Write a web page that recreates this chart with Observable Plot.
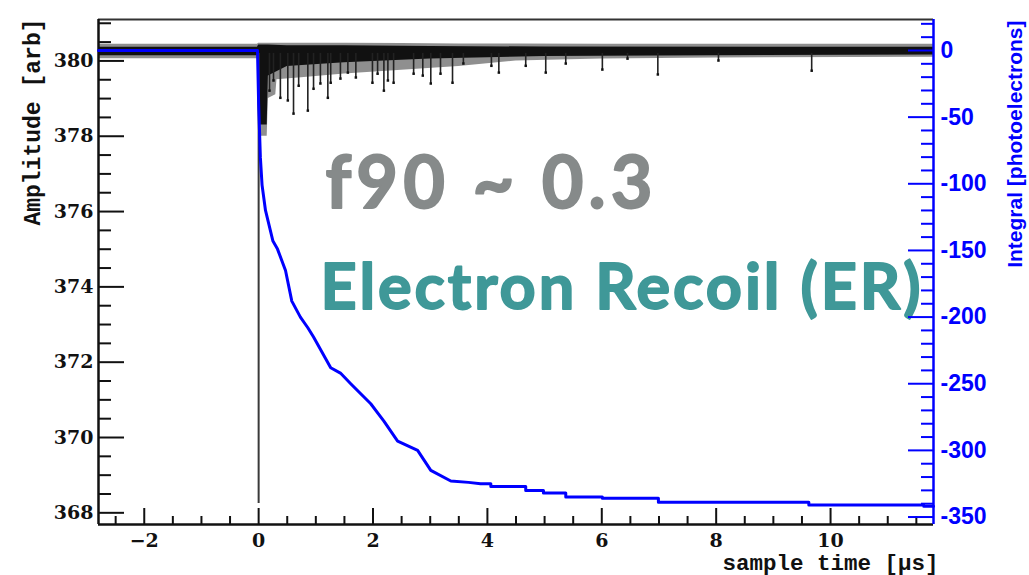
<!DOCTYPE html>
<html><head><meta charset="utf-8">
<script src="https://cdn.jsdelivr.net/npm/d3@7"></script>
<script src="https://cdn.jsdelivr.net/npm/@observablehq/plot@0.6"></script>
<style>
body{margin:0;background:#fff;}
#wrap{position:relative;width:1029px;height:575px;}
#wrap svg{position:absolute;left:0;top:0;}
</style></head><body><div id="wrap"></div>
<script>
// ---- scale ranges ----
const timeRange = [-2.8, 11.8];
const ampRange = [367.69, 381.1];
const integralRange = [-355.6, 23.25];

// ---- tick values ----
const timeMajorTicks = [-2, 0, 2, 4, 6, 8, 10];
const timeMinorTicks = [-2.5,-1.5,-1,-0.5,0.5,1,1.5,2.5,3,3.5,4.5,5,5.5,6.5,7,7.5,8.5,9,9.5,10.5,11,11.5];
const ampMajorTicks = [368, 370, 372, 374, 376, 378, 380];
const ampMinorTicks = [368.5,369,369.5,370.5,371,371.5,372.5,373,373.5,374.5,375,375.5,376.5,377,377.5,378.5,379,379.5,380.5,381];
const intMajorTicks = [0, -50, -100, -150, -200, -250, -300, -350];
const intMinorTicks = [20,10,-10,-20,-30,-40,-60,-70,-80,-90,-110,-120,-130,-140,-160,-170,-180,-190,-210,-220,-230,-240,-260,-270,-280,-290,-310,-320,-330,-340];

// ---- waveform (amplitude, arb): outer noise envelope ----
const envT  = [-2.8, -0.02, 0.0, 0.15, 0.17, 0.30, 0.32, 0.75, 1.5, 2.5, 3.5, 4.5, 6.0, 8.0, 11.8];
const envLo = [380.06, 380.06, 378.0, 378.0, 379.0, 379.1, 379.5, 379.55, 379.65, 379.75, 379.85, 380.0, 380.05, 380.08, 380.10];
const envHi = [380.44, 380.44, 380.47, 380.47, 380.47, 380.47, 380.47, 380.47, 380.47, 380.46, 380.45, 380.45, 380.44, 380.44, 380.44];
// ---- waveform: dense core of the trace ----
const coreT  = [-2.8, -0.02, 0.0, 0.15, 0.17, 0.5, 1.5, 3.0, 5.0, 11.8];
const coreLo = [380.14, 380.14, 378.3, 378.3, 379.6, 379.85, 379.95, 380.05, 380.12, 380.16];
const coreHi = [380.36, 380.36, 380.42, 380.42, 380.42, 380.4, 380.4, 380.38, 380.37, 380.36];

// ---- waveform single-photoelectron dips ----
const spikeT = [0.19,0.26,0.38,0.51,0.61,0.70,0.86,0.96,1.08,1.21,1.26,1.43,1.56,1.70,1.99,2.08,2.19,2.26,2.36,2.71,2.87,3.01,3.18,3.39,3.58,4.07,4.20,4.67,5.02,5.37,6.01,6.45,6.98,8.04,9.67];
const spikeBase = [380.2,380.2,380.2,380.2,380.2,380.2,380.2,380.2,380.2,380.2,380.2,380.2,380.2,380.2,380.2,380.2,380.2,380.2,380.2,380.2,380.2,380.2,380.2,380.2,380.2,380.2,380.2,380.2,380.2,380.2,380.2,380.2,380.2,380.2,380.2];
const spikeA = [379.21,379.48,379.02,378.95,378.60,379.34,378.68,379.26,379.40,379.02,379.42,379.53,379.69,379.56,379.42,379.66,379.21,379.48,379.42,379.66,379.61,379.40,379.66,379.42,379.93,379.87,379.69,379.87,379.69,379.93,379.77,380.06,379.64,380.01,379.74];

// ---- trigger pulse ----
const trigT = [0.0];
const trigBase = [380.2];
const trigA = [368.25];

// ---- integral (photoelectrons) ----
const intT = [-2.8,-0.02,0.0,0.03,0.06,0.12,0.25,0.33,0.47,0.58,0.73,0.86,0.96,1.26,1.43,1.61,1.96,2.19,2.43,2.78,3.01,3.36,3.67,3.88,4.06,4.06,4.67,4.67,4.98,4.98,5.37,5.37,6.01,6.01,6.99,6.99,9.62,9.62,11.63,11.63,11.8];
const intV = [0,0,-40,-80,-101,-120,-143,-149,-165,-188,-200,-208,-215,-238,-242,-250,-265,-278,-293,-300,-315,-323,-324,-325,-325,-327,-327,-330,-330,-332,-332,-335,-335,-336,-336,-339,-339,-341,-341,-342,-342];

// ---- annotation texts ----
const f90Text = "f90 ~ 0.3";
const classText = "Electron Recoil (ER)";
const xTitle = "sample time [µs]";
const yTitle = "Amplitude [arb]";
const y2Title = "Integral [photoelectrons]";

const W = 1029, H = 575;
const margins = {marginLeft: 98, marginRight: 96, marginTop: 19, marginBottom: 51};
const serif = "DejaVu Serif";
const mono = "Liberation Mono";

const plotA = Plot.plot({
  width: W, height: H, ...margins,
  style: {background: "white", fontFamily: serif, fontWeight: "bold", fontSize: "19px", color: "#111"},
  x: {domain: timeRange},
  y: {domain: ampRange},
  marks: [
    Plot.areaY(envT, {x: envT, y1: envLo, y2: envHi, fill: "#333", fillOpacity: 0.55}),
    Plot.areaY(coreT, {x: coreT, y1: coreLo, y2: coreHi, fill: "#111"}),
    Plot.ruleX(spikeT, {x: spikeT, y1: spikeBase, y2: spikeA, stroke: "#222", strokeWidth: 1.6}),
    Plot.dot(spikeT, {x: spikeT, y: spikeA, r: 1.4, fill: "#111", symbol: "square"}),
    Plot.ruleX(trigT, {x: trigT, y1: trigBase, y2: trigA, stroke: "#3a3a3a", strokeWidth: 2}),
    Plot.ruleY([ampRange[1]], {stroke: "#333", strokeWidth: 2}),
    Plot.ruleY([ampRange[0]], {stroke: "#111", strokeWidth: 2.5}),
    Plot.ruleX([timeRange[0]], {stroke: "#111", strokeWidth: 2.5}),
    Plot.axisY(ampMajorTicks, {anchor: "left", tickSize: -26, tickPadding: 31, strokeWidth: 2, color: "#111",
      fontFamily: serif, fontWeight: "bold", fontSize: 19, tickFormat: d => String(d), label: null}),
    Plot.axisY(ampMinorTicks, {anchor: "left", tickSize: -13, tickPadding: 0, strokeWidth: 2, color: "#111",
      tickFormat: () => "", label: null}),
    Plot.axisX(timeMajorTicks, {anchor: "bottom", tickSize: -16, tickPadding: 25, strokeWidth: 2, color: "#111",
      fontFamily: serif, fontWeight: "bold", fontSize: 19, label: null}),
    Plot.axisX(timeMinorTicks, {anchor: "bottom", tickSize: -8, tickPadding: 0, strokeWidth: 2, color: "#111",
      tickFormat: () => "", label: null}),
    Plot.text([yTitle], {text: d => d, frameAnchor: "top-left", dx: -66, dy: -1, rotate: -90,
      textAnchor: "end", lineAnchor: "middle", fontFamily: mono, fontWeight: "bold", fontSize: 23, fill: "#111"}),
    Plot.text([xTitle], {text: d => d, frameAnchor: "bottom-right", dx: 5, dy: 45,
      textAnchor: "end", lineAnchor: "bottom", fontFamily: mono, fontWeight: "bold", fontSize: 22.5, fill: "#111"}),
    Plot.text([f90Text], {text: d => d, frameAnchor: "top-left", dx: 227, dy: 188,
      textAnchor: "start", lineAnchor: "bottom", fontFamily: "Lato", fontWeight: "bold", fontSize: 72,
      fill: "#868a8a", stroke: "#868a8a", strokeWidth: 1.8}),
    Plot.text([classText], {text: d => d, frameAnchor: "top-left", dx: 222, dy: 289,
      textAnchor: "start", lineAnchor: "bottom", fontFamily: "Lato", fontWeight: "bold", fontSize: 63,
      fill: "#3f9898", stroke: "#3f9898", strokeWidth: 1.8})
  ]
});

const plotB = Plot.plot({
  width: W, height: H, ...margins,
  style: {background: "transparent", fontFamily: "Liberation Sans", fontWeight: "bold", fontSize: "23px", color: "blue"},
  x: {domain: timeRange, axis: null},
  y: {domain: integralRange},
  marks: [
    Plot.line(intT, {x: intT, y: intV, stroke: "#0000ff", strokeWidth: 3}),
    Plot.ruleX([timeRange[1]], {stroke: "#0000ff", strokeWidth: 2.5}),
    Plot.axisY(intMajorTicks, {anchor: "right", tickSize: -26, tickPadding: 33, strokeWidth: 2, color: "#0000ff",
      fontFamily: "Liberation Sans", fontWeight: "bold", fontSize: 23, tickFormat: d => String(d), label: null}),
    Plot.axisY(intMinorTicks, {anchor: "right", tickSize: -13, tickPadding: 0, strokeWidth: 2, color: "#0000ff",
      tickFormat: () => "", label: null}),
    Plot.text([y2Title], {text: d => d, frameAnchor: "top-right", dx: 82, dy: 1, rotate: -90,
      textAnchor: "end", lineAnchor: "middle", fontFamily: "Liberation Sans", fontWeight: "bold", fontSize: 21, fill: "#0000ff"})
  ]
});

const wrap = document.getElementById("wrap");
wrap.appendChild(plotA);
wrap.appendChild(plotB);
plotB.style.background = "transparent";

d3.select(plotA).selectAll("text").each(function() {
  const t = this.textContent;
  if (t === f90Text) { this.setAttribute("textLength", 327); this.setAttribute("lengthAdjust", "spacing"); }
  if (t === classText) { this.setAttribute("textLength", 600); this.setAttribute("lengthAdjust", "spacing"); }
});
</script></body></html>
